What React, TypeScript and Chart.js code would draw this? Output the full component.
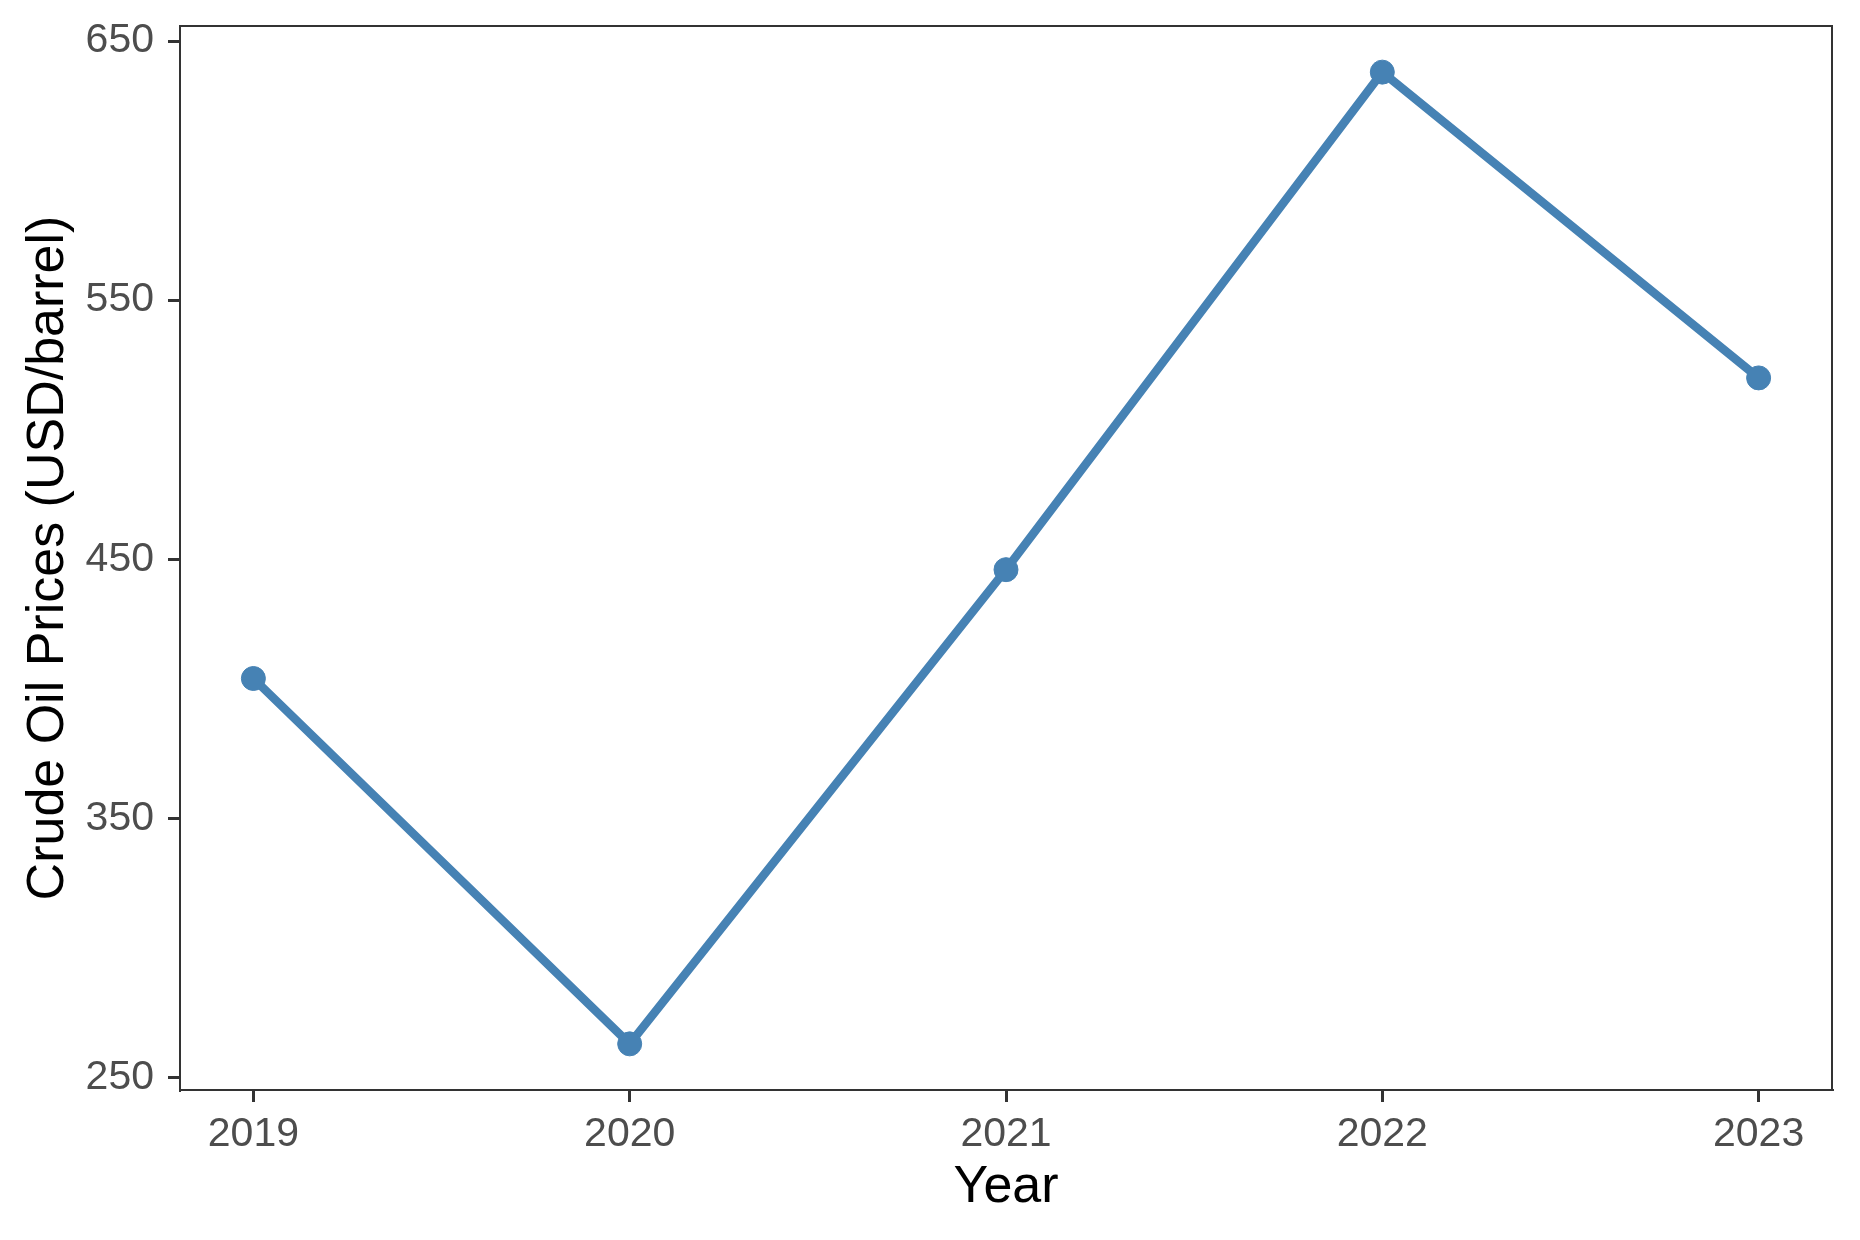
import React, { useEffect, useRef } from "react";
import { Chart, registerables } from "chart.js";

Chart.register(...registerables);

const years = [2019, 2020, 2021, 2022, 2023];
const prices = [404, 263, 446, 638, 520];
const yTickValues = [250, 350, 450, 550, 650];
const xTitle = "Year";
const yTitle = "Crude Oil Prices (USD/barrel)";

const FONT = "'Liberation Sans', Arial, sans-serif";
const LINE_COLOR = "#4682B4";
const AXIS_COLOR = "#333333";

const panelBorder = {
  id: "panelBorder",
  afterDraw(chart: any) {
    const { ctx, chartArea } = chart;
    ctx.save();
    ctx.strokeStyle = AXIS_COLOR;
    ctx.lineWidth = 2;
    ctx.strokeRect(chartArea.left, chartArea.top, chartArea.right - chartArea.left, chartArea.bottom - chartArea.top);
    ctx.restore();
  },
};

export default function App() {
  const canvasRef = useRef<HTMLCanvasElement | null>(null);

  useEffect(() => {
    const canvas = canvasRef.current;
    if (!canvas) return;
    const chart = new Chart(canvas, {
      type: "line",
      data: {
        datasets: [
          {
            data: years.map((y, i) => ({ x: y, y: prices[i] })),
            borderColor: LINE_COLOR,
            backgroundColor: LINE_COLOR,
            borderWidth: 8.5,
            pointRadius: 12,
            pointBorderWidth: 1,
            pointBackgroundColor: LINE_COLOR,
            pointBorderColor: LINE_COLOR,
            tension: 0,
            fill: false,
          },
        ],
      },
      options: {
        animation: false,
        responsive: false,
        maintainAspectRatio: false,
        layout: { padding: { top: 26, right: 28, left: 0, bottom: 0 } },
        plugins: {
          legend: { display: false },
          tooltip: { enabled: false },
        },
        scales: {
          x: {
            type: "linear",
            min: 2018.805,
            max: 2023.195,
            afterBuildTicks: (scale: any) => {
              scale.ticks = years.map((v) => ({ value: v }));
            },
            afterFit: (scale: any) => {
              scale.height = 150;
              scale.paddingLeft = 0;
              scale.paddingRight = 0;
            },
            grid: {
              drawOnChartArea: false,
              drawTicks: true,
              tickLength: 12,
              color: AXIS_COLOR,
              lineWidth: 3,
            },
            border: { display: true, color: AXIS_COLOR, width: 2 },
            ticks: {
              padding: 8,
              color: "#4D4D4D",
              font: { family: FONT, size: 41 },
              maxRotation: 0,
              callback: (v: any) => String(v),
            },
            title: {
              display: true,
              text: xTitle,
              color: "#000000",
              font: { family: FONT, size: 52 },
              padding: 21,
            },
          },
          y: {
            type: "linear",
            min: 245.2,
            max: 655.8,
            afterBuildTicks: (scale: any) => {
              scale.ticks = yTickValues.map((v) => ({ value: v }));
            },
            afterFit: (scale: any) => {
              scale.width = 180;
              scale.paddingTop = 0;
              scale.paddingBottom = 0;
            },
            grid: {
              drawOnChartArea: false,
              drawTicks: true,
              tickLength: 12,
              color: AXIS_COLOR,
              lineWidth: 3,
            },
            border: { display: true, color: AXIS_COLOR, width: 2 },
            ticks: {
              padding: 14,
              color: "#4D4D4D",
              font: { family: FONT, size: 41 },
              callback: (v: any) => String(v),
            },
            title: {
              display: true,
              text: yTitle,
              color: "#000000",
              font: { family: FONT, size: 52 },
              padding: 17,
            },
          },
        },
      },
      plugins: [panelBorder],
    });
    return () => chart.destroy();
  }, []);

  return (
    <div style={{ position: "fixed", left: 0, top: 0, width: 1860, height: 1240, background: "#ffffff" }}>
      <canvas ref={canvasRef} width={1860} height={1240} style={{ width: 1860, height: 1240, display: "block" }} />
    </div>
  );
}
